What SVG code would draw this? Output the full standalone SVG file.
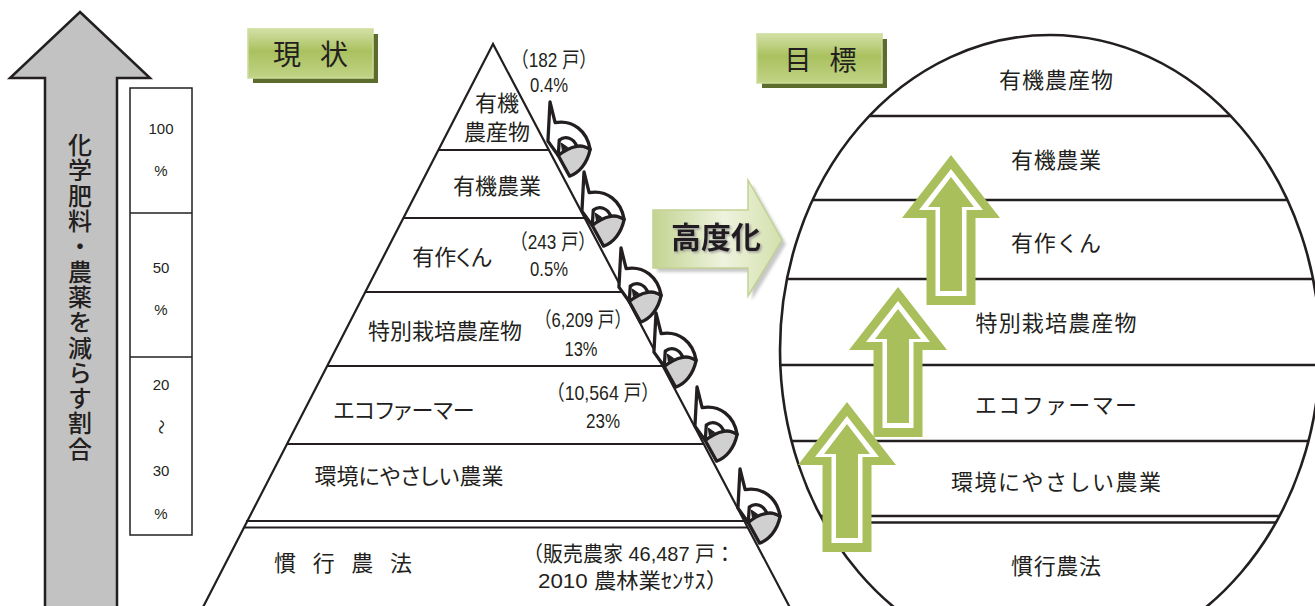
<svg xmlns="http://www.w3.org/2000/svg" width="1315" height="606" viewBox="0 0 1315 606">
<defs>
<style>
.jp{font-family:"Noto Sans CJK JP","Noto Sans CJK SC",sans-serif;fill:#231f20}
.num{font-family:"Liberation Sans","Noto Sans CJK JP",sans-serif;fill:#231f20}
.ln{stroke:#231f20;stroke-width:2.2;fill:none}
.eln{stroke:#231f20;stroke-width:2.4;fill:none}
.mid{text-anchor:middle}
.lab{font-size:22px}
.nm{font-size:21px}
.palt{font-feature-settings:"palt"}
.g{fill:#a8bf5b}
.w{fill:#ffffff}
</style>
<linearGradient id="btn" x1="0" y1="0" x2="0" y2="1">
<stop offset="0" stop-color="#d3e0a6"/>
<stop offset="0.45" stop-color="#aac15f"/>
<stop offset="1" stop-color="#c1d386"/>
</linearGradient>
<linearGradient id="adv" x1="0" y1="0" x2="1" y2="0">
<stop offset="0" stop-color="#c3d392"/>
<stop offset="0.55" stop-color="#eef3de"/>
<stop offset="1" stop-color="#d4e0ad"/>
</linearGradient>
<filter id="blur" x="-10%" y="-10%" width="130%" height="130%"><feGaussianBlur stdDeviation="1.6"/></filter>
<filter id="tsh" x="-10%" y="-20%" width="130%" height="150%"><feDropShadow dx="1.5" dy="1.5" stdDeviation="0.8" flood-color="#8a8a8a" flood-opacity="0.8"/></filter>
<clipPath id="ec"><ellipse cx="1050" cy="350" rx="270" ry="315"/></clipPath>
<g id="curl" stroke="#231f20" stroke-width="3.2" stroke-linejoin="round">
<path d="M8,52 L19,72 C28,69 36,60 39,46 C34,43 29,42 26,43 C20,44 14,47 8,52 Z" fill="#d0d0d0"/>
<path d="M0,0 L5,20 C22,17 36,28 39,46 C34,43 29,42 26,43 C23,35 15,32 9,37 L8,52 L-2,38 Z" fill="#ffffff"/>
<path d="M11,40 L17,44 L12,47 Z" fill="#231f20" stroke-width="1"/>
</g>
<g id="garrow">
<polygon class="g" points="0,0 49,63 24.5,63 24.5,150 -24.5,150 -24.5,63 -49,63"/>
<polygon class="w" points="0,14 32,55 15.5,55 15.5,141 -15.5,141 -15.5,55 -32,55"/>
<polygon class="g" points="0,22 23,52 11,52 11,136 -11,136 -11,52 -23,52"/>
</g>
</defs>
<rect width="1315" height="606" fill="#ffffff"/>

<g id="reduce-arrow">
<path d="M80,12 L150,78 L117,78 L117,612 L45,612 L45,78 L10,78 Z" fill="#c2c2c2" stroke="#231f20" stroke-width="2.5" stroke-linejoin="miter"/>
<text class="jp" font-size="24" font-weight="500" x="80" y="133" writing-mode="vertical-rl" letter-spacing="1.3">化学肥料・農薬を減らす割合</text>
</g>

<g id="ratio-box">
<rect x="130" y="88" width="62" height="447" fill="#ffffff" stroke="#231f20" stroke-width="1.5"/>
<line x1="130" y1="213" x2="192" y2="213" stroke="#231f20" stroke-width="1.5"/>
<line x1="130" y1="357" x2="192" y2="357" stroke="#231f20" stroke-width="1.5"/>
<text class="num mid" font-size="15" x="161" y="134">100</text>
<text class="num mid" font-size="15" x="161" y="176">%</text>
<text class="num mid" font-size="15" x="161" y="273">50</text>
<text class="num mid" font-size="15" x="161" y="315">%</text>
<text class="num mid" font-size="15" x="161" y="390">20</text>
<text class="jp mid" font-size="15" x="161" y="432" transform="rotate(90 161 427)">～</text>
<text class="num mid" font-size="15" x="161" y="476">30</text>
<text class="num mid" font-size="15" x="161" y="519">%</text>
</g>

<g id="btn-current">
<rect x="253" y="34" width="125" height="49" fill="#5c6c2c"/>
<rect x="248" y="29" width="125" height="49" fill="url(#btn)" stroke="#cddb9a" stroke-width="1.5"/>
<text class="jp mid" font-size="28" x="310.5" y="65" textLength="75">現 状</text>
</g>

<g id="btn-goal">
<rect x="762" y="39" width="125" height="49" fill="#5c6c2c"/>
<rect x="757" y="34" width="125" height="49" fill="url(#btn)" stroke="#cddb9a" stroke-width="1.5"/>
<text class="jp mid" font-size="27" x="820.5" y="70" textLength="72">目 標</text>
</g>

<g id="pyramid">
<polygon points="493,44 200.5,612 792.3,612" fill="#ffffff" stroke="#231f20" stroke-width="2.2"/>
<line class="ln" x1="438.4" y1="150" x2="548.9" y2="150"/>
<line class="ln" x1="403.4" y1="218" x2="584.7" y2="218"/>
<line class="ln" x1="365.3" y1="292" x2="623.7" y2="292"/>
<line class="ln" x1="327.2" y1="366" x2="662.7" y2="366"/>
<line class="ln" x1="287" y1="444" x2="703.8" y2="444"/>
<line class="ln" x1="246" y1="521" x2="745" y2="521" stroke-width="3"/>
<line class="ln" x1="243.5" y1="527.5" x2="748" y2="527.5" stroke-width="3"/>
<text class="jp mid lab"><tspan x="497" y="111">有機</tspan><tspan x="497" y="140">農産物</tspan></text>
<text class="jp mid lab" x="497" y="194">有機農業</text>
<text class="jp mid lab palt" x="452" y="265">有作くん</text>
<text class="jp mid lab" x="445" y="339">特別栽培農産物</text>
<text class="jp mid lab palt" x="404" y="418">エコファーマー</text>
<text class="jp mid lab palt" x="409" y="484">環境にやさしい農業</text>
<text class="jp mid lab" x="343" y="571" textLength="138">慣 行 農 法</text>
<text class="num mid nm" x="554" y="67" textLength="85" lengthAdjust="spacingAndGlyphs">（182 戸）</text>
<text class="num mid nm" x="549" y="92" textLength="38" lengthAdjust="spacingAndGlyphs">0.4%</text>
<text class="num mid nm" x="553" y="249" textLength="85" lengthAdjust="spacingAndGlyphs">（243 戸）</text>
<text class="num mid nm" x="549" y="276" textLength="38" lengthAdjust="spacingAndGlyphs">0.5%</text>
<text class="num mid nm" x="583" y="327" textLength="96" lengthAdjust="spacingAndGlyphs">（6,209 戸）</text>
<text class="num mid nm" x="581" y="356" textLength="33" lengthAdjust="spacingAndGlyphs">13%</text>
<text class="num mid nm" x="603" y="400" textLength="112" lengthAdjust="spacingAndGlyphs">（10,564 戸）</text>
<text class="num mid nm" x="603" y="428" textLength="34" lengthAdjust="spacingAndGlyphs">23%</text>
<text class="num mid nm" x="629" y="561" textLength="212" lengthAdjust="spacingAndGlyphs">（販売農家 46,487 戸：</text>
<text class="num mid nm" x="633" y="588" textLength="190" lengthAdjust="spacingAndGlyphs">2010 農林業ｾﾝｻｽ）</text>
</g>

<g id="curls">
<use href="#curl" transform="translate(550,102) scale(1.03)"/>
<use href="#curl" transform="translate(584,172) scale(1.03)"/>
<use href="#curl" transform="translate(621,248) scale(1.03)"/>
<use href="#curl" transform="translate(656,313) scale(1.03)"/>
<use href="#curl" transform="translate(697,387) scale(1.03)"/>
<use href="#curl" transform="translate(740,469) scale(1.03)"/>
</g>

<g id="advance-arrow">
<path d="M653,210 L748,210 L748,180 L782,240 L748,296 L748,268 L653,268 Z" fill="#9a9a9a" opacity="0.55" transform="translate(4,4)" filter="url(#blur)"/>
<path d="M653,210 L748,210 L748,180 L782,240 L748,296 L748,268 L653,268 Z" fill="url(#adv)" stroke="#c3d293" stroke-width="1.5"/>
<text class="jp mid" font-size="30" font-weight="bold" x="716" y="248" filter="url(#tsh)">高度化</text>
</g>

<g id="goal-ellipse">
<ellipse cx="1050" cy="350" rx="270" ry="315" fill="#ffffff"/>
<g clip-path="url(#ec)">
<line class="eln" x1="770" y1="116" x2="1320" y2="116"/>
<line class="eln" x1="770" y1="200" x2="1320" y2="200"/>
<line class="eln" x1="770" y1="279" x2="1320" y2="279"/>
<line class="eln" x1="770" y1="365" x2="1320" y2="365"/>
<line class="eln" x1="770" y1="441" x2="1320" y2="441"/>
<line class="eln" x1="770" y1="516" x2="1320" y2="516" stroke-width="3"/>
<line class="eln" x1="770" y1="522.5" x2="1320" y2="522.5" stroke-width="3"/>
</g>
<ellipse cx="1050" cy="350" rx="270" ry="315" fill="none" stroke="#231f20" stroke-width="2.6"/>
<text class="jp mid lab" x="1056" y="88" textLength="114">有機農産物</text>
<text class="jp mid lab" x="1056" y="168" textLength="90">有機農業</text>
<text class="jp mid lab" x="1056" y="251" textLength="90">有作くん</text>
<text class="jp mid lab" x="1056" y="331" textLength="161">特別栽培農産物</text>
<text class="jp mid lab" x="1056" y="413" textLength="162">エコファーマー</text>
<text class="jp mid lab" x="1056" y="490" textLength="210">環境にやさしい農業</text>
<text class="jp mid lab" x="1056" y="574" textLength="90">慣行農法</text>
</g>

<g id="green-arrows">
<use href="#garrow" transform="translate(847,402)"/>
<use href="#garrow" transform="translate(898,287)"/>
<use href="#garrow" transform="translate(951,155)"/>
</g>
</svg>
